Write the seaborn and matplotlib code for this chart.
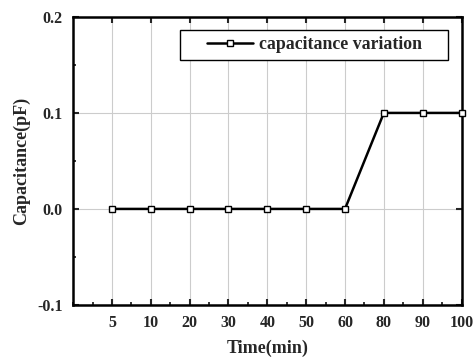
import numpy as np
import pandas as pd
import matplotlib
matplotlib.use('Agg')
import matplotlib.pyplot as plt
import seaborn as sns
from matplotlib.patches import Rectangle
from matplotlib.ticker import MultipleLocator, FormatStrFormatter

# data
time_labels = ['5', '10', '20', '30', '40', '50', '60', '80', '90', '100']
capacitance = [0.0, 0.0, 0.0, 0.0, 0.0, 0.0, 0.0, 0.1, 0.1, 0.1]

df = pd.DataFrame({'pos': np.arange(1, len(time_labels) + 1), 'cap': capacitance})

sns.set_style('ticks')
plt.rcParams['font.family'] = ['Liberation Serif', 'DejaVu Serif']
plt.rcParams['font.weight'] = 'bold'

fig = plt.figure(figsize=(4.75, 3.6), dpi=100)
ax = fig.add_axes([0.154, 0.153, 0.8176, 0.8])

sns.lineplot(data=df, x='pos', y='cap', ax=ax, color='black', linewidth=1.8,
             marker='s', markersize=5, markerfacecolor='white',
             markeredgecolor='black', markeredgewidth=1.0,
             label='capacitance variation', clip_on=False, zorder=5)

ax.set_xlim(0, 10)
ax.set_ylim(-0.1, 0.2)
ax.set_xticks(df['pos'])
ax.set_xticklabels(time_labels)
ax.xaxis.set_minor_locator(MultipleLocator(0.5))
ax.yaxis.set_major_locator(MultipleLocator(0.1))
ax.yaxis.set_minor_locator(MultipleLocator(0.05))
ax.yaxis.set_major_formatter(FormatStrFormatter('%.1f'))

ax.grid(True, which='major', color='#cccccc', linewidth=0.8)
ax.set_axisbelow(True)

for s in ax.spines.values():
    s.set_linewidth(1.8)
    s.set_color('black')

ax.tick_params(which='major', direction='in', length=4, width=1.5,
               top=True, right=True, labelsize=11.5, pad=7.5)
ax.tick_params(which='minor', direction='in', length=2.5, width=1.3,
               top=False, right=False)
for lbl in ax.get_xticklabels() + ax.get_yticklabels():
    lbl.set_fontweight('bold')

ax.set_xlabel('Time(min)', fontsize=13, fontweight='bold', labelpad=6)
ax.set_ylabel('Capacitance(pF)', fontsize=13, fontweight='bold', labelpad=5)

# legend with a wide box drawn by hand
ax.add_patch(Rectangle((0.2758, 0.8507), 0.6882, 0.1042, transform=ax.transAxes,
                       facecolor='white', edgecolor='black', linewidth=1.0,
                       zorder=6))
leg = ax.legend(loc='center left', bbox_to_anchor=(0.345, 0.9028), frameon=False,
                prop={'size': 12.8, 'weight': 'bold'}, handlelength=2.6,
                handletextpad=0.3, borderpad=0, borderaxespad=0)
leg.set_zorder(7)

fig.savefig('out.png', dpi=100)
